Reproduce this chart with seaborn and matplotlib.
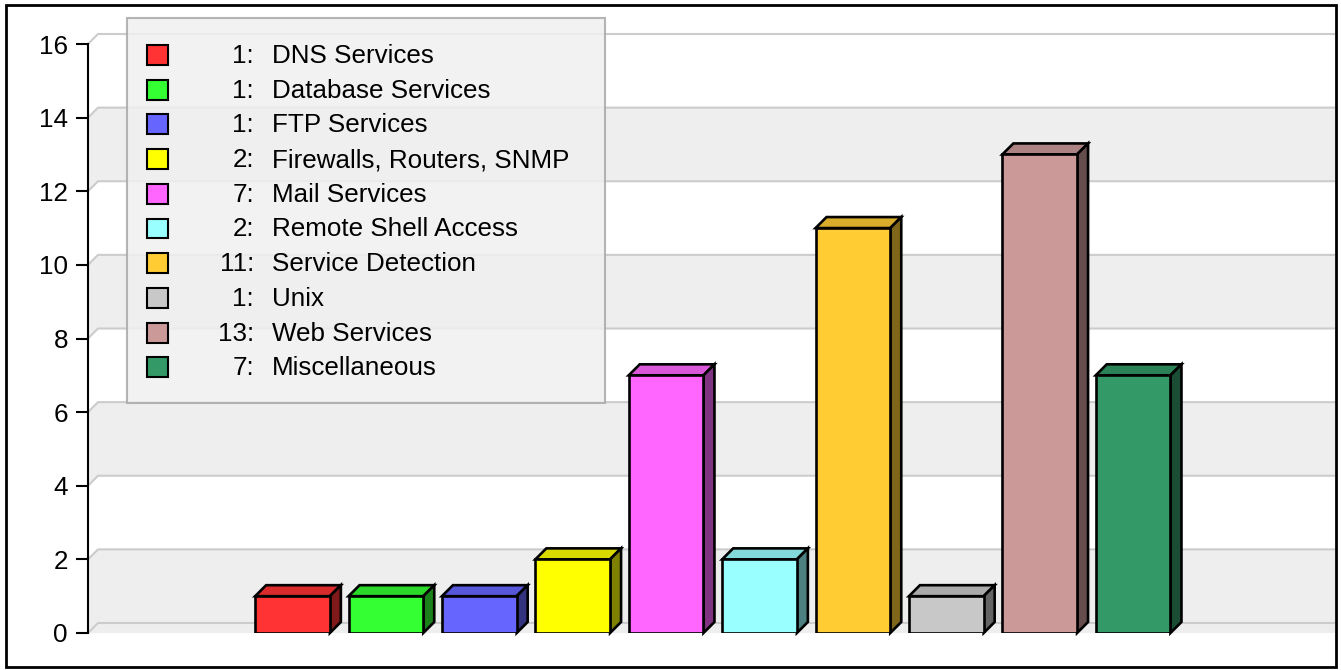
import matplotlib
matplotlib.use("Agg")
import matplotlib.pyplot as plt
import seaborn as sns
import numpy as np
import pandas as pd
from matplotlib.patches import Polygon, Rectangle
from matplotlib.colors import to_rgb

# ---- data ----
categories = ["DNS Services", "Database Services", "FTP Services",
              "Firewalls, Routers, SNMP", "Mail Services", "Remote Shell Access",
              "Service Detection", "Unix", "Web Services", "Miscellaneous"]
counts = [1, 1, 1, 2, 7, 2, 11, 1, 13, 7]
colors = ["#FF3333", "#33FF33", "#6666FF", "#FFFF00", "#FF66FF",
          "#99FFFF", "#FFCC33", "#C8C8C8", "#CC9999", "#339966"]
yticks = [0, 2, 4, 6, 8, 10, 12, 14, 16]

W, H = 1341, 670
sns.set_style("white")
plt.rcParams["font.family"] = ["Liberation Sans", "DejaVu Sans"]
plt.rcParams["text.color"] = "black"
plt.rcParams["ytick.color"] = "black"
FS = 18.7

def fx(x):
    return x / W

def fy(y):
    return 1 - y / H

fig = plt.figure(figsize=(W / 100, H / 100), dpi=100)
ax_l, ax_r, ax_t, ax_b = 88, 1325, 44, 633
ax = fig.add_axes([fx(ax_l), fy(ax_b), (ax_r - ax_l) / W, (ax_b - ax_t) / H])
ax.set_facecolor("none")

df = pd.DataFrame({"cat": categories, "n": counts})
sns.barplot(data=df, x="cat", y="n", hue="cat", palette=colors, legend=False,
            width=0.8, saturation=1, edgecolor="black", linewidth=1.9,
            ax=ax, zorder=3)
bars = list(ax.patches)

xl0 = (ax_l - 292.5) / 93.4
xl1 = (ax_r - 292.5) / 93.4
ax.set_xlim(xl0, xl1)
ax.set_ylim(0, 16)
px_x = (ax_r - ax_l) / (xl1 - xl0)
px_y = (ax_b - ax_t) / 16.0
gdx, gdy = 10 / px_x, 10 / px_y
bdx, bdy = 11 / px_x, 11 / px_y

# back wall bands
band_c = "#EEEEEE"
for y0 in [0, 4, 8, 12]:
    y1 = y0 + 2
    if y0 == 0:
        pts = [(xl0, 0), (xl1 + gdx, 0), (xl1 + gdx, y1 + gdy),
               (xl0 + gdx, y1 + gdy), (xl0, y1)]
    else:
        pts = [(xl0, y0), (xl0 + gdx, y0 + gdy), (xl1 + gdx, y0 + gdy),
               (xl1 + gdx, y1 + gdy), (xl0 + gdx, y1 + gdy), (xl0, y1)]
    ax.add_patch(Polygon(pts, closed=True, facecolor=band_c, edgecolor="none",
                         zorder=0.5, clip_on=False))

for t in yticks:
    ax.plot([xl0, xl0 + gdx, xl1 + gdx], [t, t + gdy, t + gdy], color="#CCCCCC",
            lw=1.5, zorder=1, clip_on=False, solid_capstyle="butt")

# 3D faces of the bars
for p in bars:
    x0 = p.get_x()
    w = p.get_width()
    h = p.get_height()
    x1 = x0 + w
    c = np.array(to_rgb(p.get_facecolor()))
    top = [(x0, h), (x1, h), (x1 + bdx, h + bdy), (x0 + bdx, h + bdy)]
    side = [(x1, 0), (x1 + bdx, bdy), (x1 + bdx, h + bdy), (x1, h)]
    ax.add_patch(Polygon(top, closed=True, facecolor=c * 0.85, edgecolor="black",
                         lw=1.9, zorder=2.9, clip_on=False, joinstyle="miter"))
    ax.add_patch(Polygon(side, closed=True, facecolor=c * 0.5, edgecolor="black",
                         lw=1.9, zorder=2.9, clip_on=False, joinstyle="miter"))

# axes styling
for s in ["top", "right", "bottom"]:
    ax.spines[s].set_visible(False)
ax.spines["left"].set_color("black")
ax.spines["left"].set_linewidth(1.5)
ax.set_yticks(yticks)
ax.set_yticklabels([str(t) for t in yticks], fontsize=FS, color="black")
ax.tick_params(axis="y", left=True, length=8.6, width=1.5, pad=5.8,
               colors="black", labelcolor="black")
ax.set_xticks([])
ax.set_xlabel("")
ax.set_ylabel("")

# legend box
fig.add_artist(Rectangle((fx(127), fy(403)), fx(605) - fx(127), fy(18) - fy(403),
                         transform=fig.transFigure, facecolor="#F0F0F0", alpha=0.85,
                         edgecolor="#A8A8A8", lw=1.5, zorder=5))
row0, step = 56, 34.7
for i, (cat, n, col) in enumerate(zip(categories, counts, colors)):
    yc = row0 + i * step
    fig.add_artist(Rectangle((fx(147), fy(yc + 9)), fx(168) - fx(147), fy(yc - 11) - fy(yc + 9),
                             transform=fig.transFigure, facecolor=col,
                             edgecolor="black", lw=1.5, zorder=6))
    fig.text(fx(254), fy(yc), f"{n}:", ha="right", va="center", fontsize=FS,
             color="black", zorder=7)
    fig.text(fx(272), fy(yc), cat, ha="left", va="center", fontsize=FS,
             color="black", zorder=7)

# outer border
fig.add_artist(Rectangle((fx(6), fy(667)), fx(1336) - fx(6), fy(5) - fy(667),
                         transform=fig.transFigure, facecolor="none",
                         edgecolor="black", lw=2, zorder=10))

fig.savefig("out.png", dpi=100)
